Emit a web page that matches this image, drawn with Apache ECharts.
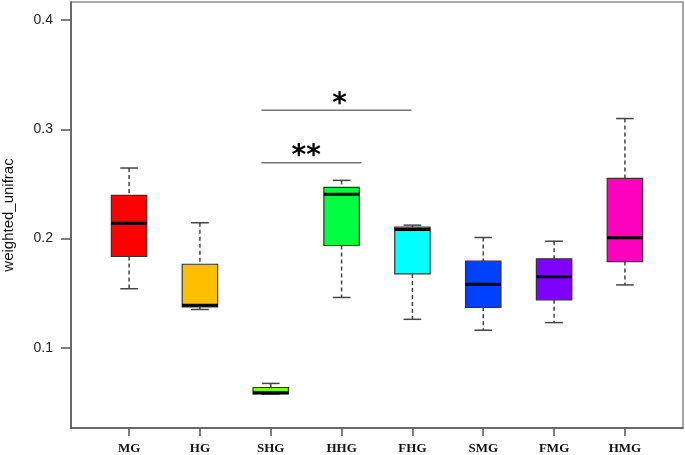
<!DOCTYPE html>
<html>
<head>
<meta charset="utf-8">
<script src="https://cdn.jsdelivr.net/npm/echarts@6/dist/echarts.min.js"></script>
<style>
  html, body { margin: 0; padding: 0; background: #fff; }
  #chart { width: 685px; height: 455px; }
</style>
</head>
<body>
<div id="chart"></div>
<script>
// groups, in plotting order (x = 1..8)
const groups = ["MG", "HG", "SHG", "HHG", "FHG", "SMG", "FMG", "HMG"];

// five-number summaries
const whiskerLow = [0.154, 0.135, 0.0575, 0.146, 0.126, 0.116, 0.123, 0.1575];
const q1 =         [0.1835, 0.1374, 0.0578, 0.1936, 0.1676, 0.137, 0.1438, 0.1789];
const median =     [0.214, 0.1389, 0.0588, 0.2406, 0.2083, 0.1581, 0.1649, 0.2006];
const q3 =         [0.2394, 0.1764, 0.0636, 0.2468, 0.2104, 0.1792, 0.1814, 0.255];
const whiskerHigh = [0.2645, 0.2144, 0.0673, 0.2532, 0.2122, 0.2009, 0.1975, 0.3098];

// R rainbow(8)
const boxColors = ["#FF0000", "#FFBF00", "#80FF00", "#00FF40", "#00FFFF", "#0040FF", "#8000FF", "#FF00BF"];

const yTicks = [0.1, 0.2, 0.3, 0.4];

// significance brackets: from x, to x, level, label x, mark
const sigFrom = [2.867, 2.867];
const sigTo = [4.986, 4.28];
const sigLevel = [0.3174, 0.2694];
const sigLabelX = [3.97, 3.5];
const sigMark = ["*", "**"];

const xPositions = groups.map((_, i) => i + 1);
const boxData = groups.map((_, i) => [i + 1, whiskerLow[i], q1[i], median[i], q3[i], whiskerHigh[i]]);
const sigData = sigMark.map((m, i) => [sigFrom[i], sigTo[i], sigLevel[i], sigLabelX[i], m]);

const BOX_W = 0.5;   // in x units
const CAP_W = 0.25;

function renderBox(params, api) {
  const x = api.value(0);
  const lo = api.coord([x, api.value(1)]);
  const b1 = api.coord([x, api.value(2)]);
  const md = api.coord([x, api.value(3)]);
  const b3 = api.coord([x, api.value(4)]);
  const hi = api.coord([x, api.value(5)]);
  const halfBox = api.size([BOX_W, 0])[0] / 2;
  const halfCap = api.size([CAP_W, 0])[0] / 2;
  const cx = lo[0];
  const whisker = { stroke: "#444", lineWidth: 1.5, lineDash: [4, 3] };
  const cap = { stroke: "#444", lineWidth: 1.5 };
  return {
    type: "group",
    children: [
      { type: "line", shape: { x1: cx, y1: hi[1], x2: cx, y2: b3[1] }, style: whisker },
      { type: "line", shape: { x1: cx, y1: b1[1], x2: cx, y2: lo[1] }, style: whisker },
      { type: "line", shape: { x1: cx - halfCap, y1: hi[1], x2: cx + halfCap, y2: hi[1] }, style: cap },
      { type: "line", shape: { x1: cx - halfCap, y1: lo[1], x2: cx + halfCap, y2: lo[1] }, style: cap },
      {
        type: "rect",
        shape: { x: cx - halfBox, y: b3[1], width: halfBox * 2, height: b1[1] - b3[1] },
        style: { fill: boxColors[params.dataIndex], stroke: "#333", lineWidth: 1.2 }
      },
      { type: "line", shape: { x1: cx - halfBox, y1: md[1], x2: cx + halfBox, y2: md[1] }, style: { stroke: "#000", lineWidth: 3 } }
    ]
  };
}

function renderSig(params, api) {
  const a = api.coord([api.value(0), api.value(2)]);
  const b = api.coord([api.value(1), api.value(2)]);
  const t = api.coord([api.value(3), api.value(2)]);
  return {
    type: "group",
    children: [
      { type: "line", shape: { x1: a[0], y1: a[1], x2: b[0], y2: b[1] }, style: { stroke: "#777", lineWidth: 1.5 } },
      {
        type: "text",
        x: t[0],
        y: t[1] - 6,
        style: {
          text: sigMark[params.dataIndex],
          fill: "#000",
          font: "bold 28px 'DejaVu Sans'",
          textAlign: "center",
          textVerticalAlign: "middle"
        }
      }
    ]
  };
}

const chart = echarts.init(document.getElementById("chart"), null, { renderer: "canvas" });

chart.setOption({
  animation: false,
  backgroundColor: "#fff",
  grid: {
    left: 71, right: 2, top: 2, bottom: 27,
    outerBoundsMode: "none",
    containLabel: false,
    show: true, borderColor: "#8a8a8a", borderWidth: 1.5
  },
  xAxis: {
    type: "value",
    min: 0.18,
    max: 8.82,
    splitLine: { show: false },
    axisLine: { show: true, lineStyle: { color: "#555", width: 1.5 } },
    axisTick: { show: true, length: 8, customValues: xPositions, lineStyle: { color: "#555", width: 1.5 } },
    axisLabel: {
      customValues: xPositions,
      formatter: (v) => groups[Math.round(v) - 1],
      margin: 14,
      color: "#111",
      fontFamily: "Liberation Serif",
      fontWeight: "bold",
      fontSize: 13
    }
  },
  yAxis: {
    type: "value",
    min: 0.0265,
    max: 0.4165,
    name: "weighted_unifrac",
    nameLocation: "middle",
    nameGap: 55,
    nameTextStyle: { fontFamily: "Liberation Sans", fontSize: 15, color: "#111" },
    splitLine: { show: false },
    axisLine: { show: true, lineStyle: { color: "#555", width: 1.5 } },
    axisTick: { show: true, length: 10, customValues: yTicks, lineStyle: { color: "#555", width: 1.5 } },
    axisLabel: {
      customValues: yTicks,
      formatter: (v) => v.toFixed(1),
      margin: 18,
      color: "#222",
      fontFamily: "Liberation Sans",
      fontSize: 14
    }
  },
  series: [
    {
      type: "custom",
      renderItem: renderBox,
      data: boxData,
      encode: { x: 0, y: [1, 2, 3, 4, 5] },
      clip: false
    },
    {
      type: "custom",
      renderItem: renderSig,
      data: sigData,
      encode: { x: [0, 1, 3], y: 2 },
      clip: false
    }
  ]
});
</script>
</body>
</html>
